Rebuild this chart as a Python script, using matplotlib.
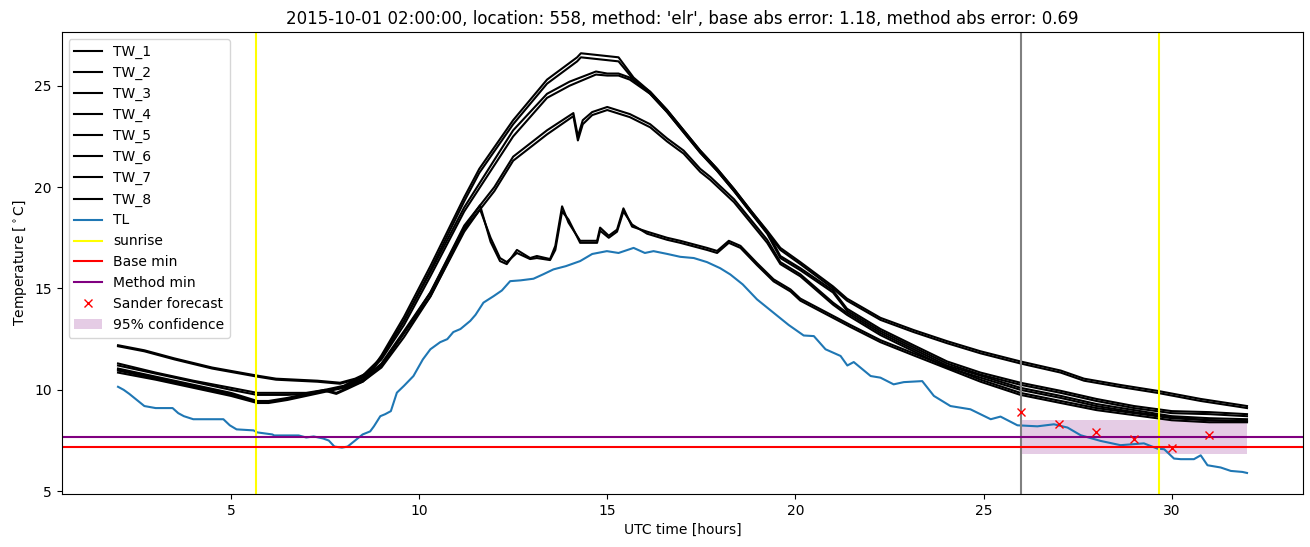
import matplotlib
matplotlib.use("Agg")
import matplotlib.pyplot as plt

# ---------------- data ----------------
time_b = [2.0, 2.7, 3.5, 4.5, 5.7, 6.2, 7.3, 7.9, 8.3, 8.7, 9.0, 9.6, 10.3, 11.2, 11.6, 12.5, 13.4, 14.2, 14.3,
          14.8, 15.3, 15.7, 16.14, 16.59, 17.03, 17.47, 17.92, 18.37, 18.81, 19.25, 19.6, 20.13, 21.0, 21.37, 22.26,
          23.14, 24.03, 24.92, 25.98, 27.05, 27.67, 28.6, 29.62, 30.77, 31.83, 32.0]
tw_1 = [12.2, 11.95, 11.55, 11.1, 10.7, 10.55, 10.45, 10.35, 10.55, 10.9, 11.7, 13.6, 16.1, 19.5, 20.9, 23.3, 25.3,
        26.4, 26.6, 26.5, 26.4, 25.4, 24.7, 23.8, 22.8, 21.8, 20.9, 19.9, 18.85, 17.85, 17.0, 16.3, 15.1, 14.5, 13.55,
        12.95, 12.4, 11.9, 11.4, 10.95, 10.55, 10.25, 9.95, 9.55, 9.25, 9.2]
tw_2 = [12.15, 11.9, 11.5, 11.05, 10.65, 10.5, 10.4, 10.3, 10.5, 10.8, 11.6, 13.4, 15.9, 19.3, 20.7, 23.1, 25.1,
        26.2, 26.4, 26.3, 26.2, 25.3, 24.6, 23.7, 22.7, 21.7, 20.8, 19.8, 18.75, 17.75, 16.9, 16.2, 15.0, 14.4, 13.45,
        12.85, 12.3, 11.8, 11.3, 10.85, 10.45, 10.15, 9.85, 9.45, 9.15, 9.1]

time_c = [2.0, 3.0, 4.0, 5.0, 5.7, 6.5, 7.0, 7.5, 8.0, 8.5, 9.0, 9.6, 10.3, 11.2, 12.5, 13.4, 14.0, 14.7, 15.0, 15.3,
          15.6, 16.14, 16.59, 17.03, 17.47, 17.92, 18.37, 18.81, 19.25, 19.6, 20.13, 21.0, 21.37, 22.26, 23.14, 24.03,
          24.92, 25.98, 27.05, 28.0, 29.0, 30.0, 31.0, 32.0]
tw_3 = [11.3, 10.85, 10.45, 10.1, 9.85, 9.85, 9.85, 10.0, 10.2, 10.7, 11.6, 13.4, 15.8, 19.0, 22.8, 24.6, 25.2, 25.7,
        25.6, 25.6, 25.4, 24.7, 23.8, 22.8, 21.8, 20.9, 19.9, 18.85, 17.8, 16.6, 16.0, 14.9, 14.0, 13.0, 12.2, 11.4,
        10.85, 10.35, 9.95, 9.55, 9.2, 8.95, 8.9, 8.8]
tw_4 = [11.2, 10.8, 10.4, 10.0, 9.75, 9.75, 9.8, 9.95, 10.15, 10.6, 11.5, 13.2, 15.6, 18.8, 22.5, 24.4, 25.0, 25.55,
        25.5, 25.5, 25.3, 24.6, 23.7, 22.7, 21.7, 20.8, 19.8, 18.75, 17.7, 16.5, 15.9, 14.8, 13.9, 12.9, 12.1, 11.3,
        10.75, 10.25, 9.85, 9.45, 9.1, 8.85, 8.8, 8.7]

time_d = [2.0, 3.0, 4.0, 5.0, 5.7, 6.0, 6.5, 7.0, 7.5, 7.8, 8.1, 8.5, 9.0, 9.6, 10.3, 11.2, 12.0, 12.5, 13.4, 14.1,
          14.22, 14.35, 14.6, 15.0, 15.6, 16.14, 16.59, 17.03, 17.47, 17.74, 18.37, 18.81, 19.25, 19.6, 20.13, 21.0,
          21.37, 22.26, 23.14, 24.03, 24.92, 25.98, 27.05, 28.0, 29.0, 30.0, 31.0, 32.0]
tw_5 = [11.05, 10.65, 10.25, 9.85, 9.45, 9.45, 9.6, 9.8, 10.0, 9.85, 10.1, 10.5, 11.3, 12.9, 14.8, 18.1, 20.0, 21.5,
        22.8, 23.65, 22.5, 23.3, 23.7, 23.95, 23.6, 23.1, 22.4, 21.8, 20.9, 20.5, 19.4, 18.4, 17.4, 16.3, 15.7, 14.3,
        13.8, 12.8, 12.0, 11.2, 10.7, 10.1, 9.7, 9.3, 9.0, 8.7, 8.6, 8.55]
tw_6 = [11.0, 10.6, 10.2, 9.8, 9.4, 9.4, 9.55, 9.75, 9.95, 9.8, 10.05, 10.4, 11.2, 12.8, 14.6, 17.9, 19.8, 21.3,
        22.6, 23.5, 22.3, 23.1, 23.55, 23.8, 23.45, 22.95, 22.25, 21.65, 20.75, 20.35, 19.25, 18.25, 17.25, 16.2,
        15.6, 14.2, 13.7, 12.7, 11.9, 11.1, 10.6, 10.0, 9.6, 9.2, 8.9, 8.65, 8.5, 8.45]

time_e = [2.0, 3.0, 4.0, 5.0, 5.7, 6.0, 6.5, 7.0, 7.5, 8.0, 8.5, 9.0, 9.6, 10.3, 11.2, 11.62, 11.9, 12.15, 12.33,
          12.6, 12.95, 13.13, 13.48, 13.62, 13.8, 13.97, 14.28, 14.73, 14.81, 15.04, 15.26, 15.43, 15.66, 16.06,
          16.59, 16.94, 17.65, 17.92, 18.23, 18.54, 18.98, 19.42, 19.87, 20.13, 21.46, 22.26, 23.14, 24.03, 24.92,
          25.98, 27.05, 28.0, 29.0, 30.0, 31.0, 32.0]
tw_7 = [10.95, 10.55, 10.15, 9.75, 9.4, 9.4, 9.55, 9.75, 9.95, 10.15, 10.5, 11.2, 12.8, 14.8, 18.0, 19.1, 17.3,
        16.35, 16.2, 16.9, 16.5, 16.6, 16.45, 17.1, 19.05, 18.25, 17.35, 17.35, 18.0, 17.6, 17.9, 18.95, 18.05,
        17.8, 17.5, 17.35, 17.0, 16.85, 17.35, 17.1, 16.25, 15.45, 14.95, 14.5, 13.2, 12.45, 11.8, 11.15, 10.5,
        9.85, 9.45, 9.1, 8.85, 8.6, 8.5, 8.45]
tw_8 = [10.85, 10.5, 10.1, 9.7, 9.35, 9.35, 9.5, 9.7, 9.9, 10.1, 10.4, 11.1, 12.6, 14.6, 17.8, 18.9, 17.5,
        16.5, 16.3, 16.75, 16.45, 16.5, 16.4, 16.9, 18.8, 18.4, 17.25, 17.25, 17.85, 17.5, 17.8, 18.8, 18.15,
        17.7, 17.4, 17.25, 16.9, 16.75, 17.25, 17.0, 16.15, 15.35, 14.85, 14.4, 13.1, 12.35, 11.7, 11.05, 10.4,
        9.75, 9.35, 9.0, 8.75, 8.5, 8.4, 8.4]

time_tl = [2.0, 2.15, 2.3, 2.5, 2.7, 3.0, 3.45, 3.6, 3.75, 4.0, 4.8, 4.97, 5.15, 5.6, 5.7, 6.1, 6.15, 6.8, 7.0, 7.2,
           7.45, 7.6, 7.75, 7.95, 8.1, 8.3, 8.5, 8.7, 8.8, 8.97, 9.1, 9.25, 9.41, 9.6, 9.85, 10.1, 10.3, 10.56,
           10.75, 10.91, 11.1, 11.36, 11.5, 11.71, 11.98, 12.2, 12.42, 12.7, 13.04, 13.3, 13.57, 13.9, 14.28, 14.6,
           14.99, 15.3, 15.7, 16.0, 16.23, 16.6, 16.94, 17.3, 17.65, 18.0, 18.27, 18.6, 18.98, 19.42, 19.82, 20.22,
           20.49, 20.8, 21.2, 21.38, 21.55, 22.0, 22.26, 22.61, 22.88, 23.37, 23.68, 24.12, 24.65, 25.19, 25.45,
           25.9, 26.43, 26.87, 27.23, 27.58, 28.11, 28.64, 29.26, 29.62, 29.8, 30.06, 30.24, 30.59, 30.77, 30.95,
           31.3, 31.57, 31.88, 32.0]
tl = [10.15, 10.0, 9.8, 9.5, 9.2, 9.1, 9.1, 8.85, 8.7, 8.55, 8.55, 8.25, 8.05, 8.0, 7.9, 7.8, 7.75, 7.75, 7.65, 7.7,
      7.6, 7.5, 7.2, 7.15, 7.2, 7.5, 7.8, 7.95, 8.2, 8.7, 8.8, 8.95, 9.86, 10.2, 10.68, 11.5, 12.0, 12.35, 12.5,
      12.85, 13.0, 13.4, 13.7, 14.3, 14.62, 14.9, 15.36, 15.4, 15.48, 15.7, 15.94, 16.1, 16.35, 16.7, 16.84, 16.75,
      17.0, 16.75, 16.84, 16.7, 16.56, 16.5, 16.3, 16.0, 15.69, 15.2, 14.46, 13.8, 13.2, 12.68, 12.65, 12.0, 11.67,
      11.2, 11.37, 10.68, 10.6, 10.27, 10.38, 10.43, 9.7, 9.2, 9.04, 8.55, 8.68, 8.25, 8.2, 8.3, 8.14, 7.76, 7.48,
      7.27, 7.36, 7.1, 7.07, 6.61, 6.58, 6.58, 6.77, 6.28, 6.17, 6.0, 5.95, 5.9]

sunrise_hours = [5.66, 29.65]
forecast_start = 26.0
base_min = 7.17
method_min = 7.67
forecast_hours = [26, 27, 28, 29, 30, 31]
forecast_values = [8.93, 8.33, 7.92, 7.56, 7.15, 7.78]
conf_hours = [26.0, 32.0]
conf_low = [6.82, 6.82]
conf_high = [8.5, 8.5]

title = ("2015-10-01 02:00:00, location: 558, method: 'elr', "
         "base abs error: 1.18, method abs error: 0.69")

# ---------------- plot ----------------
fig, ax = plt.subplots(figsize=(13.1, 5.47), dpi=100)

tw_series = [("TW_1", time_b, tw_1), ("TW_2", time_b, tw_2),
             ("TW_3", time_c, tw_3), ("TW_4", time_c, tw_4),
             ("TW_5", time_d, tw_5), ("TW_6", time_d, tw_6),
             ("TW_7", time_e, tw_7), ("TW_8", time_e, tw_8)]
for name, t, v in tw_series:
    ax.plot(t, v, color="black", lw=1.5, label=name)

ax.plot(time_tl, tl, color="#1f77b4", lw=1.5, label="TL")
ax.axvline(sunrise_hours[0], color="yellow", lw=1.5, label="sunrise")
ax.axvline(sunrise_hours[1], color="yellow", lw=1.5)
ax.axvline(forecast_start, color="gray", lw=1.5)
ax.axhline(base_min, color="red", lw=1.5, label="Base min")
ax.axhline(method_min, color="purple", lw=1.5, label="Method min")
ax.plot(forecast_hours, forecast_values, "x", color="red", label="Sander forecast")
ax.fill_between(conf_hours, conf_low, conf_high, color="purple", alpha=0.2, lw=0,
                label="95% confidence")

ax.set_title(title)
ax.set_xlabel("UTC time [hours]")
ax.set_ylabel(r"Temperature [$^\circ$C]")
ax.legend(loc="upper left")

fig.subplots_adjust(left=0.047, right=0.995, top=0.941, bottom=0.097)
fig.savefig("out.png", dpi=100)
